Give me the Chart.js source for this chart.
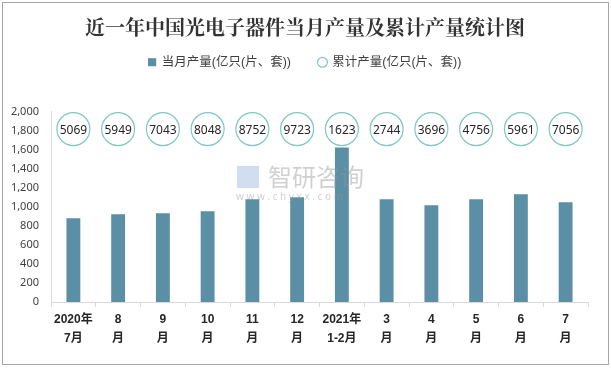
<!DOCTYPE html>
<html>
<head>
<meta charset="utf-8">
<script src="https://cdn.jsdelivr.net/npm/chart.js@4"></script>
<style>
  html, body { margin: 0; padding: 0; background: #ffffff; }
  #wrap { width: 611px; height: 368px; }
</style>
</head>
<body>
<div id="wrap"><canvas id="chart" width="611" height="368"></canvas></div>
<script>
// ==========================================
// Datos
// ==========================================
const categorias = [
    ['2020年', '7月'], ['8', '月'], ['9', '月'], ['10', '月'], ['11', '月'], ['12', '月'],
    ['2021年', '1-2月'], ['3', '月'], ['4', '月'], ['5', '月'], ['6', '月'], ['7', '月']
];
const produccionMes = [878, 920, 931, 952, 1079, 1100, 1623, 1079, 1016, 1079, 1132, 1048];
const produccionAcum = [5069, 5949, 7043, 8048, 8752, 9723, 1623, 2744, 3696, 4756, 5961, 7056];
// fila de burbujas (se dibujan a la altura de 1815 del eje Y)
const filaBurbujas = categorias.map(() => 1815);
const ticksY = [0, 200, 400, 600, 800, 1000, 1200, 1400, 1600, 1800, 2000];

const fuenteCJK = '"Liberation Sans", "Noto Sans CJK SC", sans-serif';

// Marco gris exterior + marca de agua + etiquetas de las burbujas
const pluginExtras = {
    id: 'extras',
    beforeInit(chart) {
        // más aire entre la leyenda y el área del gráfico
        const fitOriginal = chart.legend.fit;
        chart.legend.fit = function () {
            fitOriginal.bind(this)();
            this.height += 33;
        };
    },
    afterLayout(chart) {
        // título y leyenda centrados sobre todo el lienzo
        [chart.titleBlock, chart.legend].forEach(b => {
            if (b) { b.left += 7; b.right += 7; }
        });
    },
    beforeDraw(chart) {
        const ctx = chart.ctx;
        ctx.save();
        ctx.fillStyle = '#ffffff';
        ctx.fillRect(0, 0, chart.width, chart.height);
        ctx.strokeStyle = '#a6a6a6';
        ctx.lineWidth = 1;
        ctx.strokeRect(2.5, 2.5, chart.width - 5, chart.height - 6);
        ctx.restore();
    },
    afterDatasetsDraw(chart) {
        const ctx = chart.ctx;
        const meta = chart.getDatasetMeta(1);
        ctx.save();
        // marca de agua
        ctx.fillStyle = 'rgba(150,150,150,0.45)';
        ctx.font = '24px "Noto Sans CJK SC"';
        ctx.textAlign = 'left';
        ctx.textBaseline = 'middle';
        ctx.fillText('智研咨询', 268, 177);
        ctx.font = '10px "Noto Sans"';
        ctx.fillText('w w w . c h y x x . c o m', 236, 197);
        ctx.fillStyle = 'rgba(120,160,210,0.35)';
        ctx.fillRect(237, 166, 22, 22);
        // números acumulados
        ctx.fillStyle = '#262626';
        ctx.font = '12px "Noto Sans", sans-serif';
        ctx.textAlign = 'center';
        meta.data.forEach((pt, i) => {
            ctx.fillText(String(produccionAcum[i]), pt.x, pt.y + 1);
        });
        ctx.restore();
    }
};

const ctx = document.getElementById('chart').getContext('2d');
new Chart(ctx, {
    data: {
        labels: categorias,
        datasets: [
            {
                type: 'bar',
                label: '当月产量(亿只(片、套))',
                data: produccionMes,
                backgroundColor: '#5b8fa6',
                borderWidth: 0,
                barPercentage: 0.31,
                categoryPercentage: 1,
                pointStyle: 'rect',
                order: 2
            },
            {
                type: 'line',
                label: '累计产量(亿只(片、套))',
                data: filaBurbujas,
                showLine: false,
                pointRadius: 16.5,
                pointHoverRadius: 16.5,
                pointBackgroundColor: '#ffffff',
                pointBorderColor: '#7cc8c2',
                pointBorderWidth: 1.2,
                backgroundColor: '#ffffff',
                borderColor: '#7cc8c2',
                pointStyle: 'circle',
                order: 1
            }
        ]
    },
    options: {
        responsive: false,
        animation: false,
        layout: { padding: { left: 8, right: 23, top: 4, bottom: 17 } },
        plugins: {
            title: {
                display: true,
                text: '近一年中国光电子器件当月产量及累计产量统计图',
                color: '#333333',
                font: { family: '"Noto Serif CJK SC", "Noto Sans CJK SC", serif', size: 20, weight: 'bold' },
                padding: { top: 11, bottom: -11 }
            },
            legend: {
                display: true,
                position: 'top',
                labels: {
                    usePointStyle: true,
                    boxWidth: 7,
                    boxHeight: 7,
                    padding: 28,
                    color: '#404040',
                    font: { family: fuenteCJK, size: 12.5 },
                    generateLabels(chart) {
                        return chart.data.datasets.map((ds, i) => ({
                            text: ds.label,
                            fillStyle: i === 0 ? '#5b8fa6' : '#ffffff',
                            strokeStyle: i === 0 ? '#5b8fa6' : '#7cc8c2',
                            lineWidth: 1.2,
                            pointStyle: ds.pointStyle,
                            fontColor: '#404040',
                            datasetIndex: i
                        }));
                    }
                }
            },
            tooltip: { enabled: false }
        },
        scales: {
            x: {
                offset: true,
                grid: {
                    display: true,
                    offset: true,
                    drawOnChartArea: false,
                    drawTicks: true,
                    tickLength: 5,
                    color: '#d9d9d9'
                },
                border: { display: true, color: '#d9d9d9' },
                ticks: {
                    color: '#262626',
                    maxRotation: 0,
                    autoSkip: false,
                    padding: 3,
                    font: { family: fuenteCJK, size: 12, weight: 'bold', lineHeight: '19px' }
                }
            },
            y: {
                min: 0,
                max: 2000,
                afterBuildTicks(axis) {
                    axis.ticks = ticksY.map(v => ({ value: v }));
                },
                afterFit(axis) { axis.width = 43; },
                grid: { display: false, drawTicks: false },
                border: { display: true, color: '#d9d9d9' },
                ticks: {
                    color: '#404040',
                    padding: 12,
                    font: { family: '"Noto Sans", sans-serif', size: 11 },
                    callback: v => v.toLocaleString('en-US')
                }
            }
        }
    },
    plugins: [pluginExtras]
});
</script>
</body>
</html>
